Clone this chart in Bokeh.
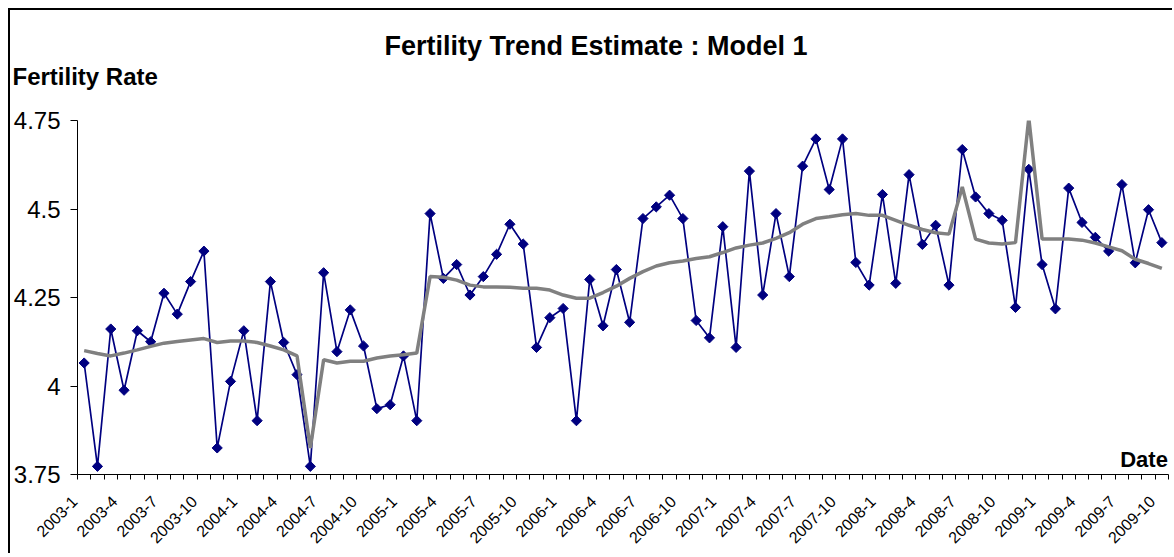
import math
from bokeh.plotting import figure
from bokeh.models import FixedTicker, Label, Range1d, Title
from bokeh.embed import file_html
from bokeh.resources import INLINE

# ---- data ----
months = [f"{y}-{m}" for y in range(2003, 2010) for m in range(1, 13)][:82]

fertility = [4.065, 3.773, 4.161, 3.988, 4.156, 4.125, 4.262, 4.203, 4.295, 4.381,
             3.825, 4.013, 4.156, 3.902, 4.295, 4.123, 4.032, 3.773, 4.320, 4.097,
             4.215, 4.113, 3.936, 3.947, 4.085, 3.902, 4.487, 4.304, 4.343, 4.257,
             4.309, 4.372, 4.457, 4.401, 4.109, 4.193, 4.219, 3.902, 4.301, 4.170,
             4.329, 4.180, 4.473, 4.506, 4.539, 4.473, 4.185, 4.136, 4.450, 4.109,
             4.607, 4.257, 4.487, 4.309, 4.621, 4.698, 4.555, 4.698, 4.349, 4.285,
             4.541, 4.290, 4.597, 4.400, 4.454, 4.285, 4.668, 4.534, 4.487, 4.468,
             4.222, 4.612, 4.343, 4.218, 4.559, 4.462, 4.420, 4.381, 4.569, 4.348,
             4.498, 4.405]

trend = [4.100, 4.092, 4.085, 4.093, 4.102, 4.112, 4.121, 4.126, 4.130, 4.134,
         4.123, 4.127, 4.127, 4.123, 4.113, 4.102, 4.085, 3.825, 4.074, 4.065,
         4.070, 4.070, 4.079, 4.085, 4.088, 4.093, 4.309, 4.307, 4.299, 4.285,
         4.280, 4.280, 4.279, 4.276, 4.276, 4.271, 4.257, 4.248, 4.248, 4.264,
         4.282, 4.304, 4.323, 4.339, 4.348, 4.353, 4.360, 4.365, 4.377, 4.390,
         4.398, 4.404, 4.417, 4.433, 4.457, 4.473, 4.478, 4.484, 4.487, 4.482,
         4.482, 4.468, 4.454, 4.442, 4.433, 4.429, 4.562, 4.415, 4.404, 4.401,
         4.405, 4.757, 4.415, 4.415, 4.415, 4.412, 4.404, 4.393, 4.382, 4.358,
         4.346, 4.332]

y_ticks = [3.75, 4.0, 4.25, 4.5, 4.75]
y_tick_labels = ["3.75", "4", "4.25", "4.5", "4.75"]

FONT = "Liberation Sans"
x = list(range(len(months)))

p = figure(width=1164, height=545, output_backend="svg", toolbar_location=None,
           title_location=None,
           x_range=Range1d(-0.5, len(months) - 0.5), y_range=Range1d(3.75, 4.75),
           min_border_left=67, min_border_right=6, min_border_top=110, min_border_bottom=80,
           styles={"margin-left": "8px", "margin-top": "8px",
                   "border-left": "2px solid black", "border-top": "2px solid black"})
p.outline_line_color = None
p.grid.visible = False
p.background_fill_color = "white"
p.border_fill_color = "white"

# lines
p.line(x, fertility, line_color="#000080", line_width=1.7)
p.scatter(x, fertility, marker="square", size=7.2, angle=math.pi / 4,
          fill_color="#000080", line_color="#000080")
p.line(x, trend, line_color="#808080", line_width=3.5)

# y axis
ya = p.yaxis[0]
ya.ticker = FixedTicker(ticks=y_ticks, minor_ticks=[])
ya.major_label_overrides = dict(zip(y_ticks, y_tick_labels))
ya.major_tick_out = 7
ya.major_tick_in = 0
ya.minor_tick_out = 0
ya.minor_tick_in = 0
ya.axis_line_color = "black"
ya.major_tick_line_color = "black"
ya.major_label_text_font = FONT
ya.major_label_text_font_size = "24px"
ya.major_label_text_color = "black"
ya.major_label_standoff = 10

# x axis
xa = p.xaxis[0]
label_pos = list(range(0, len(months), 3))
pad = "\u00a0" * 3
xa.ticker = FixedTicker(ticks=label_pos, minor_ticks=[i - 0.5 for i in range(len(months) + 1)])
xa.major_label_overrides = {i: months[i] + pad for i in label_pos}
xa.major_label_orientation = math.pi / 4
xa.major_tick_out = 0
xa.major_tick_in = 0
xa.minor_tick_out = 5
xa.minor_tick_in = 0
xa.minor_tick_line_color = "black"
xa.axis_line_color = "black"
xa.major_label_text_font = FONT
xa.major_label_text_font_size = "16px"
xa.major_label_text_line_height = 1.0
xa.major_label_text_color = "black"
xa.major_label_standoff = 10

# panels above the frame (first added = closest to the frame)
p.add_layout(Title(text="\u00a0", standoff=18, vertical_align="bottom",
                   text_font=FONT, text_font_size="10px"), "above")
p.add_layout(Title(text="Fertility Rate", align="left", offset=-65, standoff=0,
                   vertical_align="bottom",
                   text_font=FONT, text_font_size="24px", text_font_style="bold",
                   text_color="black"), "above")
p.add_layout(Title(text="Fertility Trend Estimate : Model 1", align="left", offset=307,
                   standoff=0, vertical_align="bottom",
                   text_font=FONT, text_font_size="27px", text_font_style="bold",
                   text_color="black"), "above")

# axis name inside the frame, bottom right
p.add_layout(Label(x=1042.7, y=15, x_units="screen", y_units="screen",
                   text="Date",
                   text_font=FONT, text_font_size="22px", text_font_style="bold",
                   text_align="left", text_baseline="alphabetic", text_color="black"))

open("out.html", "w").write(file_html(p, INLINE))
